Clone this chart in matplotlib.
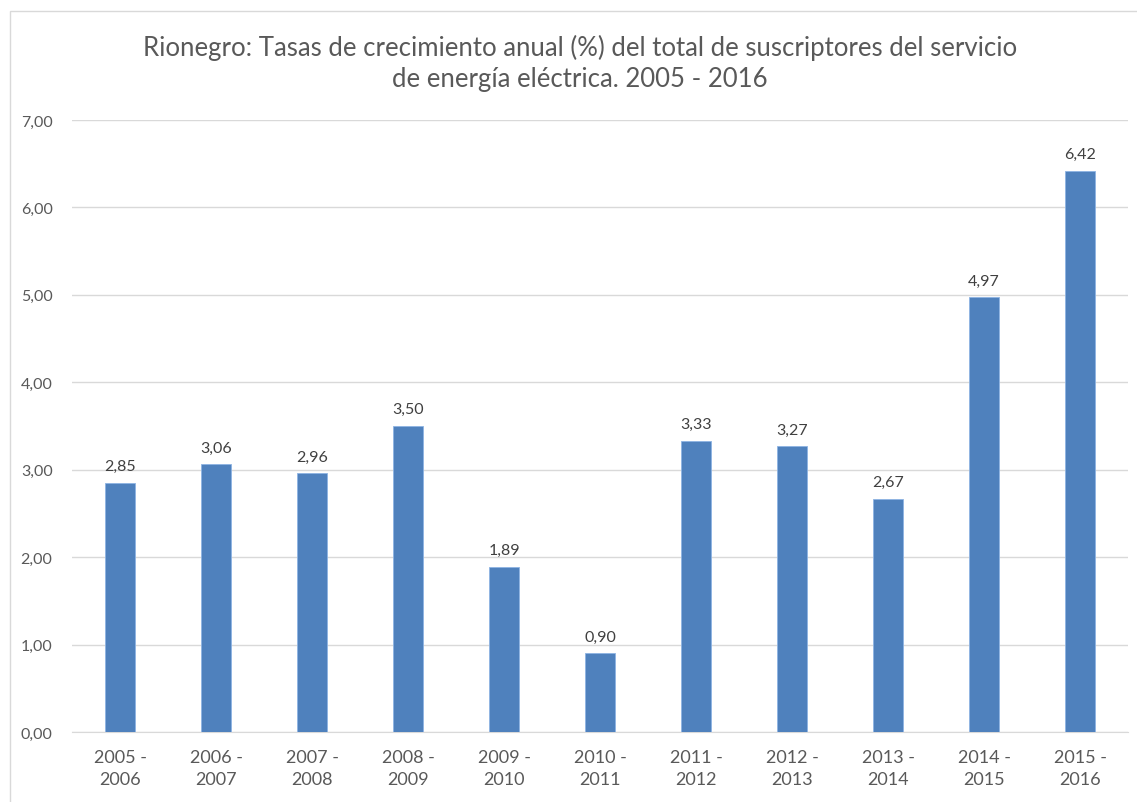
import matplotlib.pyplot as plt
from matplotlib.patches import Rectangle

periods = ['2005 -\n2006', '2006 -\n2007', '2007 -\n2008', '2008 -\n2009',
           '2009 -\n2010', '2010 -\n2011', '2011 -\n2012', '2012 -\n2013',
           '2013 -\n2014', '2014 -\n2015', '2015 -\n2016']
tasas = [2.85, 3.06, 2.96, 3.50, 1.89, 0.90, 3.33, 3.27, 2.67, 4.97, 6.42]

plt.rcParams['font.family'] = ['Lato', 'DejaVu Sans']
gray = '#595959'

fig = plt.figure(figsize=(11.37, 8.03), dpi=100)
# chart border (cut at right/bottom like the screenshot)
fig.patches.append(Rectangle((10 / 1137, -0.1), 1.2, 1 - 12 / 803 + 0.1,
                             transform=fig.transFigure, fill=False,
                             edgecolor='#d9d9d9', linewidth=1))

ax = fig.add_axes([72 / 1137, 1 - 733 / 803, 1056 / 1137, 612 / 803])
x = range(len(tasas))
ax.bar(x, tasas, width=0.31, color='#4f81bd', edgecolor='#8eb4e3',
       linewidth=0.6, zorder=3)
for xi, v in zip(x, tasas):
    ax.text(xi, v + 0.11, f'{v:.2f}'.replace('.', ','), ha='center',
            va='bottom', fontsize=11.5, color='#404040')

ax.set_xlim(-0.5, len(tasas) - 0.5)
ax.set_ylim(0, 7)
ax.set_yticks(range(8))
ax.set_yticklabels([f'{t},00' for t in range(8)], fontsize=11.5, color=gray)
ax.set_xticks(list(x))
ax.set_xticklabels(periods, fontsize=13, color=gray, linespacing=1.45)
ax.tick_params(length=0)
ax.tick_params(axis='x', pad=12)
ax.tick_params(axis='y', pad=14)
ax.grid(axis='y', color='#d9d9d9', linewidth=1, zorder=0)
for s in ['top', 'right', 'left']:
    ax.spines[s].set_visible(False)
ax.spines['bottom'].set_color('#d9d9d9')

fig.text(580 / 1137, 1 - 63 / 803,
         'Rionegro: Tasas de crecimiento anual (%) del total de suscriptores del servicio\n'
         'de energía eléctrica. 2005 - 2016',
         ha='center', va='center', fontsize=18.5, color=gray, linespacing=1.3)

fig.savefig('out.png', dpi=100)
